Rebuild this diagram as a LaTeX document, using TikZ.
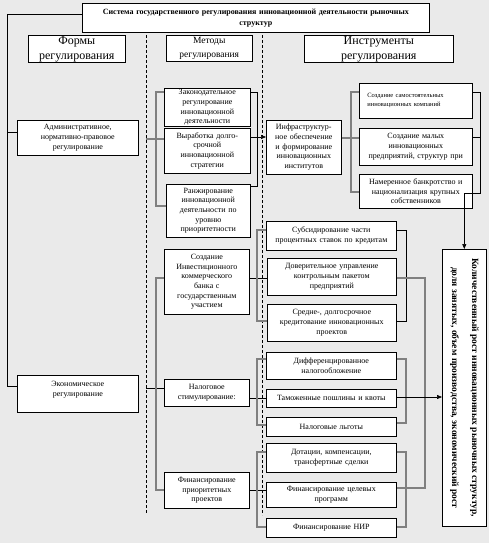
\documentclass[tikz,border=0pt]{standalone}
\usepackage{fontspec}
\setmainfont{Liberation Serif}
\usetikzlibrary{arrows.meta}
\definecolor{bgc}{RGB}{234,234,234}
\newcommand\fs{\fontsize{8}{9.7}\selectfont}
\newcommand\bx[7][]{%
 \pgfmathsetmacro\mybw{#5-#3}\pgfmathsetmacro\mybh{#6-#4}\pgfmathsetmacro\mytw{#5-#3-4}%
 \node[box,anchor=north west,minimum width=\mybw pt,minimum height=\mybh pt,text width=\mytw pt,#1] (#2) at (#3,#4) {#7};}
\begin{document}
\begin{tikzpicture}[x=1pt,y=-1pt,
  box/.style={draw,fill=white,line width=0.6pt,inner xsep=2pt,inner ysep=1pt,align=center,font=\fs},
  ln/.style={draw=black,line width=0.6pt},
  brk/.style={draw=black!50,line width=1.2pt},
  arr/.style={ln,-{Triangle[length=5pt,width=4pt]}},
  dsh/.style={draw=black,line width=0.6pt,dash pattern=on 3pt off 2pt}]
\fill[bgc] (0,0) rectangle (489,543);
\useasboundingbox (0,0) rectangle (489,543);
% headers
\bx[font=\bfseries\fontsize{8}{10.7}\selectfont]{title}{82}{3}{429}{32}{Система государственного регулирования инновационной деятельности рыночных\\структур}
\bx[font=\fontsize{12}{15}\selectfont]{forms}{28}{35}{125}{61}{Формы\\регулирования}
\bx[font=\fontsize{9.5}{14}\selectfont]{methods}{166}{35}{252}{61}{Методы\\регулирования}
\bx[font=\fontsize{12}{15}\selectfont]{instr}{304}{35}{453}{62}{Инструменты\\регулирования}
% forms
\bx{admin}{17}{120}{138}{155}{Административное,\\нормативно-правовое\\регулирование}
\bx{econ}{17}{375}{138}{412}{Экономическое\\регулирование\\\mbox{}}
% methods
\bx{zak}{164}{88}{250}{123}{Законодательное\\регулирование\\инновационной\\деятельности}
\bx{vyr}{164}{128}{250}{173}{Выработка долго-\\срочной\\инновационной\\стратегии}
\bx{ranzh}{166}{184}{250}{237}{Ранжирование\\инновационной\\деятельности по\\уровню\\приоритетности}
\bx{bank}{164}{249}{249}{314}{Создание\\Инвестиционного\\коммерческого\\банка с\\государственным\\участием}
\bx{nalog}{164}{379}{249}{406}{Налоговое\\стимулирование:}
\bx{finpr}{164}{472}{249}{508}{Финансирование\\приоритетных\\проектов}
% instruments
\bx{infra}{266}{120}{341}{174}{Инфраструктур-\\ное обеспечение\\и формирование\\инновационных\\институтов}
\bx[align=left,text width=97pt,font=\fontsize{6.5}{9}\selectfont]{samost}{359}{83}{472}{118}{Создание самостоятельных\\инновационных компаний}
\bx{malyh}{359}{128}{472}{165}{Создание малых\\инновационных\\предприятий, структур при}
\bx{namer}{359}{174}{472}{208}{Намеренное банкротство и\\национализация крупных\\собственников}
\bx{subs}{266}{221}{396}{250}{Субсидирование части\\процентных ставок по кредитам}
\bx{dov}{267}{258}{396}{295}{Доверительное управление\\контрольным пакетом\\предприятий}
\bx{sred}{267}{304}{396}{341}{Средне-, долгосрочное\\кредитование инновационных\\проектов}
\bx{diff}{266}{352}{396}{379}{Дифференцированное\\налогообложение}
\bx{tam}{266}{389}{396}{407}{Таможенные пошлины и квоты}
\bx{lgot}{266}{417}{396}{436}{Налоговые льготы}
\bx{dot}{266}{443}{396}{472}{Дотации, компенсации,\\трансфертные сделки}
\bx{cel}{266}{482}{396}{507}{Финансирование целевых\\программ}
\bx{nir}{266}{518}{396}{537}{Финансирование НИР}
% result
\bx{result}{442}{249}{486}{526}{}
\node[rotate=-90,font=\bfseries\fontsize{9.5}{20}\selectfont,align=center,inner sep=0pt] (restext) at (result.center) {Количественный рост инновационных рыночных структур,\\доля занятых, объем производства, экономический рост};
% dashed separators
\draw[dsh] (146,35) -- (146,514);
\draw[dsh] (262,35) -- (262,515);
% left spine
\draw[ln] (title.west |- 0,14) -| (7,386) -- (econ.west |- 0,386);
\draw[ln] (7,132) -- (admin.west |- 0,132);
% admin methods
\draw[brk] (146,139) -- (vyr.west |- 0,139);
\draw[brk] (zak.west |- 0,92) -| (156,206) -- (ranzh.west |- 0,206);
\draw[ln] (zak.east |- 0,92) -| (257,186) -- (ranzh.east |- 0,186);
\draw[arr] (vyr.east |- 0,137) -- (infra.west |- 0,137);
% infra instruments
\draw[brk] (infra.east |- 0,138) -- (malyh.west |- 0,138);
\draw[brk] (samost.west |- 0,92) -| (351,192) -- (namer.west |- 0,192);
\draw[ln] (malyh.east |- 0,137) -- (480,137);
\draw[arr] (samost.east |- 0,92) -| (480,193) -| (result.north);
% economic methods
\draw[ln] (146,388) -- (nalog.west |- 0,388);
\draw[brk] (bank.west |- 0,278) -| (156,490) -- (finpr.west |- 0,490);
% bank group
\draw[ln] (bank.east |- 0,278) -- (dov.west |- 0,278);
\draw[brk] (subs.west |- 0,230) -| (257,321) -- (sred.west |- 0,321);
\draw[ln] (subs.east |- 0,230) -| (406,321) -- (sred.east |- 0,321);
\draw[brk] (dov.east |- 0,278) -| (425,488) -- (cel.east |- 0,488);
% tax group
\draw[ln] (nalog.east |- 0,398) -- (tam.west |- 0,398);
\draw[brk] (diff.west |- 0,359) -| (257,425) -- (lgot.west |- 0,425);
\draw[brk] (diff.east |- 0,359) -| (406,423) -- (lgot.east |- 0,423);
\draw[arr] (tam.east |- 0,397) -- (result.west |- 0,397);
% finance group
\draw[ln] (finpr.east |- 0,490) -- (cel.west |- 0,490);
\draw[brk] (dot.west |- 0,452) -| (257,527) -- (nir.west |- 0,527);
\draw[brk] (dot.east |- 0,452) -| (406,527) -- (nir.east |- 0,527);
\end{tikzpicture}
\end{document}
